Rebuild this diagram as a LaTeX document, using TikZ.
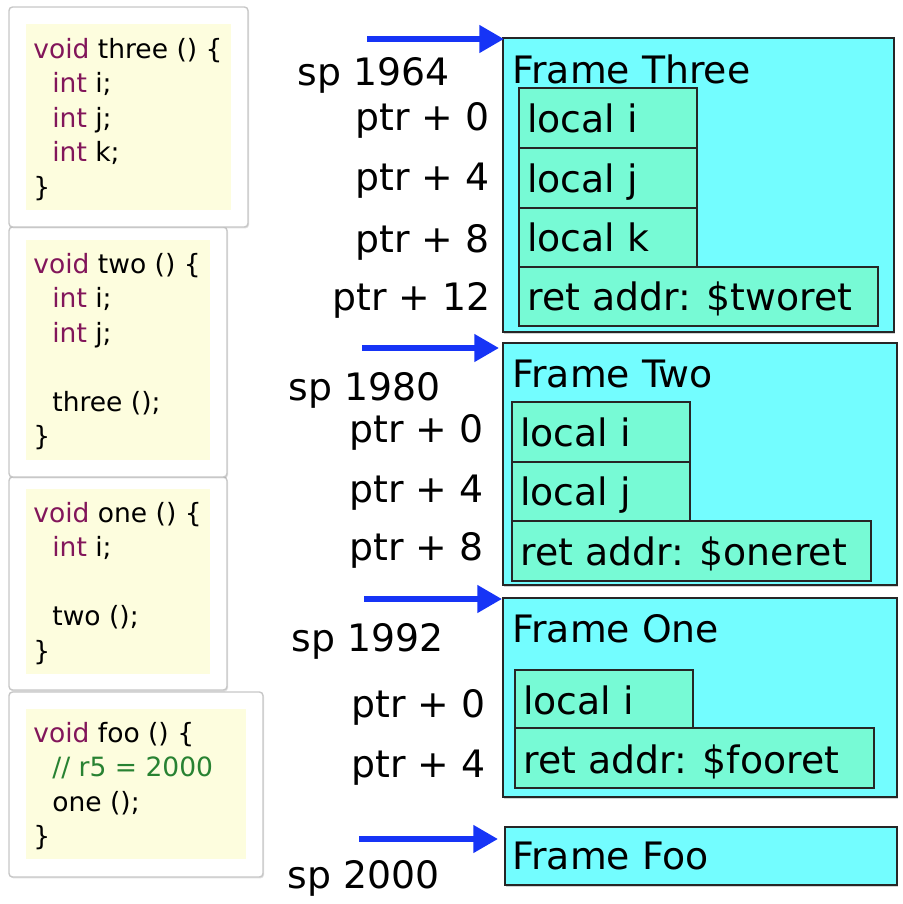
\documentclass[tikz,border=0pt]{standalone}
\usepackage{fontspec}
\setmainfont{DejaVu Sans}
\usetikzlibrary{arrows.meta,fit,shadows}

\definecolor{framecyan}{RGB}{115,253,255}
\definecolor{slotgreen}{RGB}{119,250,213}
\definecolor{codeyellow}{RGB}{253,253,222}
\definecolor{keyword}{RGB}{130,22,90}
\definecolor{comment}{RGB}{40,130,50}
\definecolor{spblue}{RGB}{22,52,246}

\newcommand{\kw}[1]{\textcolor{keyword}{#1}}

\tikzset{
  card/.style={draw=black!22, fill=white, rounded corners=2pt, line width=0.8pt,
    drop shadow={shadow xshift=0.6pt, shadow yshift=-0.8pt, opacity=0.25}},
  codebg/.style={fill=codeyellow},
  code/.style={anchor=base west, inner sep=0pt, font=\fontsize{15.1}{18}\selectfont},
  frame/.style={draw=black!85, fill=framecyan, line width=1.1pt, inner sep=0pt,
    drop shadow={shadow xshift=0.8pt, shadow yshift=-1.2pt, opacity=0.35}},
  slot/.style={draw=black!85, fill=slotgreen, line width=0.8pt, inner sep=0pt},
  big/.style={inner sep=0pt, font=\fontsize{21.5}{26}\selectfont},
  ptr/.style={draw=spblue, line width=3.4pt, -{Triangle[length=14pt,width=15pt]}},
}

\begin{document}
\begin{tikzpicture}[x=0.02cm, y=-0.02cm]
  \useasboundingbox (0,0) rectangle (903,904);

  % code cards on the left
  \draw[card] (9,692) rectangle (263,877);
  \draw[card] (9,477) rectangle (227,690);
  \draw[card] (9,227) rectangle (227,477);
  \draw[card] (9,7) rectangle (248,227);
  \fill[codebg] (26,24) rectangle (231,210);
  \fill[codebg] (26,240) rectangle (210,460);
  \fill[codebg] (26,489) rectangle (210,674);
  \fill[codebg] (26,709) rectangle (246,859);

  % void three
  \node[code] (c1a) at (33,58) {\kw{void} three () \{};
  \node[code] (c1b) at (52,92.5) {\kw{int} i;};
  \node[code] (c1c) at (52,127) {\kw{int} j;};
  \node[code] (c1d) at (52,161.5) {\kw{int} k;};
  \node[code] (c1e) at (33,196) {\}};

  % void two
  \node[code] (c2a) at (33,273) {\kw{void} two () \{};
  \node[code] (c2b) at (52,307.5) {\kw{int} i;};
  \node[code] (c2c) at (52,342) {\kw{int} j;};
  \node[code] (c2d) at (52,411) {three ();};
  \node[code] (c2e) at (33,445.5) {\}};

  % void one
  \node[code] (c3a) at (33,522) {\kw{void} one () \{};
  \node[code] (c3b) at (52,556.5) {\kw{int} i;};
  \node[code] (c3c) at (52,625.5) {two ();};
  \node[code] (c3d) at (33,660) {\}};

  % void foo
  \node[code] (c4a) at (33,742) {\kw{void} foo () \{};
  \node[code] (c4b) at (52,776.5) {\textcolor{comment}{// r5 = 2000}};
  \node[code] (c4c) at (52,811) {one ();};
  \node[code] (c4d) at (33,845.5) {\}};

  % Frame Three
  \node[frame, fit={(503,38) (894,332)}] (f3) {};
  \node[big, anchor=base west] (f3t) at (512,83) {Frame Three};
  \node[slot, fit={(519,88) (697,148)}] (f3i) {};
  \node[slot, fit={(519,148) (697,208)}] (f3j) {};
  \node[slot, fit={(519,208) (697,267)}] (f3k) {};
  \node[slot, fit={(519,267) (878,326)}] (f3r) {};
  \node[big, anchor=base west] (f3il) at (527,132) {local i};
  \node[big, anchor=base west] (f3jl) at (527,192) {local j};
  \node[big, anchor=base west] (f3kl) at (527,251) {local k};
  \node[big, anchor=base west] (f3rl) at (527,310) {ret addr: \$tworet};
  \node[big, anchor=base east] (sp3) at (450,85) {sp 1964};
  \node[big, anchor=base east] (p3a) at (490,130) {ptr + 0};
  \node[big, anchor=base east] (p3b) at (490,190) {ptr + 4};
  \node[big, anchor=base east] (p3c) at (490,252) {ptr + 8};
  \node[big, anchor=base east] (p3d) at (491,310) {ptr + 12};

  % Frame Two
  \node[frame, fit={(503,343) (897,585)}] (f2) {};
  \node[big, anchor=base west] (f2t) at (512,387) {Frame Two};
  \node[slot, fit={(512,402) (690,462)}] (f2i) {};
  \node[slot, fit={(512,462) (690,521)}] (f2j) {};
  \node[slot, fit={(512,521) (871,581)}] (f2r) {};
  \node[big, anchor=base west] (f2il) at (520,446) {local i};
  \node[big, anchor=base west] (f2jl) at (520,505) {local j};
  \node[big, anchor=base west] (f2rl) at (520,565) {ret addr: \$oneret};
  \node[big, anchor=base east] (sp2) at (441,400) {sp 1980};
  \node[big, anchor=base east] (p2a) at (484,442) {ptr + 0};
  \node[big, anchor=base east] (p2b) at (484,502) {ptr + 4};
  \node[big, anchor=base east] (p2c) at (484,560) {ptr + 8};

  % Frame One
  \node[frame, fit={(503,598) (897,797)}] (f1) {};
  \node[big, anchor=base west] (f1t) at (512,642) {Frame One};
  \node[slot, fit={(515,670) (693,728)}] (f1i) {};
  \node[slot, fit={(515,728) (874,788)}] (f1r) {};
  \node[big, anchor=base west] (f1il) at (523,714) {local i};
  \node[big, anchor=base west] (f1rl) at (523,773) {ret addr: \$fooret};
  \node[big, anchor=base east] (sp1) at (444,651) {sp 1992};
  \node[big, anchor=base east] (p1a) at (486,717) {ptr + 0};
  \node[big, anchor=base east] (p1b) at (486,777) {ptr + 4};

  % Frame Foo
  \node[frame, fit={(505,827) (897,885)}] (f0) {};
  \node[big, anchor=base west] (f0t) at (512,869) {Frame Foo};
  \node[big, anchor=base east] (sp0) at (440,888) {sp 2000};

  % stack pointer arrows
  \coordinate (s3) at (367,39);
  \coordinate (s2) at (362,348);
  \coordinate (s1) at (364,599);
  \coordinate (s0) at (359,839);
  \draw[ptr] (s3) -- ([xshift=0.04cm]s3 -| f3.north west);
  \draw[ptr] (s2) -- ([xshift=-0.06cm]s2 -| f2.north west);
  \draw[ptr] (s1) -- (s1 -| f1.north west);
  \draw[ptr] (s0) -- ([xshift=-0.12cm]s0 -| f0.north west);
\end{tikzpicture}
\end{document}
